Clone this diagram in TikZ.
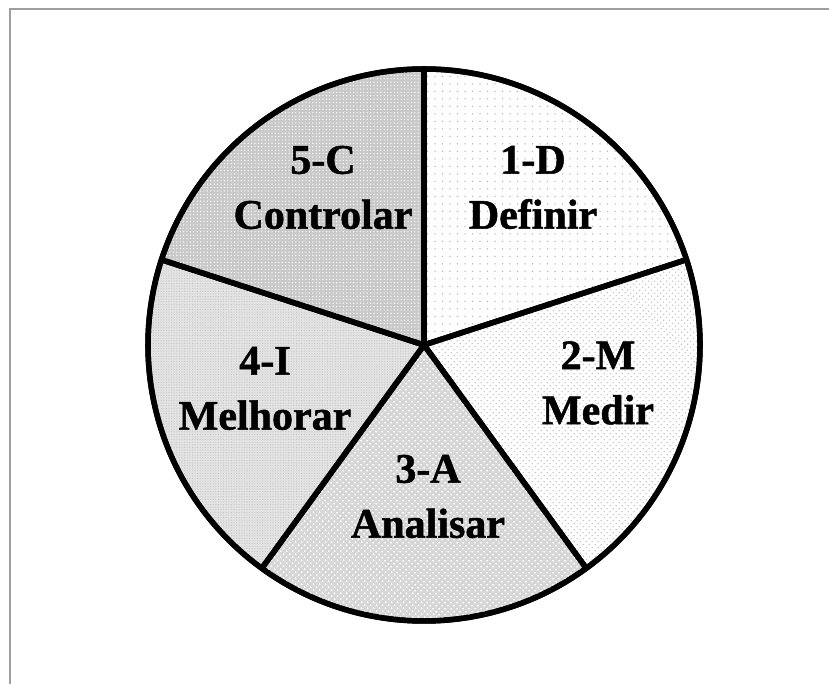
\documentclass[tikz,border=0pt]{standalone}
\usepackage{fontspec}
\setmainfont{Liberation Serif}[BoldFeatures={FakeBold=1.2}]
\usepackage{tikz}
\usetikzlibrary{patterns.meta, positioning}

\begin{document}
\begin{tikzpicture}[x=1pt,y=1pt]
\tikzstyle{slice}=[draw=black,line width=5.5pt,line join=round]
\tikzstyle{label}=[align=center,inner sep=0pt,font=\fontsize{42}{55}\selectfont\bfseries]
\tikzstyle{frame}=[draw=gray!75,line width=2pt]

\useasboundingbox (0,0) rectangle (829,684);
\coordinate (c) at (424,339);
\coordinate (tl) at (9.5,675);
\coordinate (tr) at (829,675);
\coordinate (bl) at (9.5,0);

% outer frame (top and left only)
\draw[frame] (bl) -- (tl) -- (tr);

% slices of the pie
\path[slice,fill=white,postaction={pattern={Dots[distance=7.5pt,radius=0.75pt]},pattern color=gray!60}]
  (c) -- ++(90:276) arc (90:18:276) -- cycle;
\path[slice,fill=white,postaction={pattern={Dots[distance=4pt,radius=0.8pt,angle=45]},pattern color=gray!50}]
  (c) -- ++(18:276) arc (18:-54:276) -- cycle;
\path[slice,fill=gray!32,postaction={pattern={Dots[distance=4pt,radius=1.1pt,angle=45]},pattern color=white}]
  (c) -- ++(-54:276) arc (-54:-126:276) -- cycle;
\path[slice,fill=gray!22,postaction={pattern={Dots[distance=2.6pt,radius=0.55pt]},pattern color=gray!50}]
  (c) -- ++(234:276) arc (234:162:276) -- cycle;
\path[slice,fill=gray!42,postaction={pattern={Dots[distance=3.4pt,radius=0.7pt]},pattern color=white}]
  (c) -- ++(162:276) arc (162:90:276) -- cycle;
% redraw outlines on top of patterns
\draw[slice] (c) circle (276);
\foreach \a in {90,18,-54,-126,162} \draw[slice] (c) -- ++(\a:276);

\node[label] (definir) at (533,496.5) {1-D\\Definir};
\node[label] (medir) at (598,301) {2-M\\Medir};
\node[label] (analisar) at (428,187.5) {3-A\\Analisar};
\node[label] (melhorar) at (265,295.5) {4-I\\Melhorar};
\node[label] (controlar) at (323,496.5) {5-C\\Controlar};

\end{tikzpicture}
\end{document}
